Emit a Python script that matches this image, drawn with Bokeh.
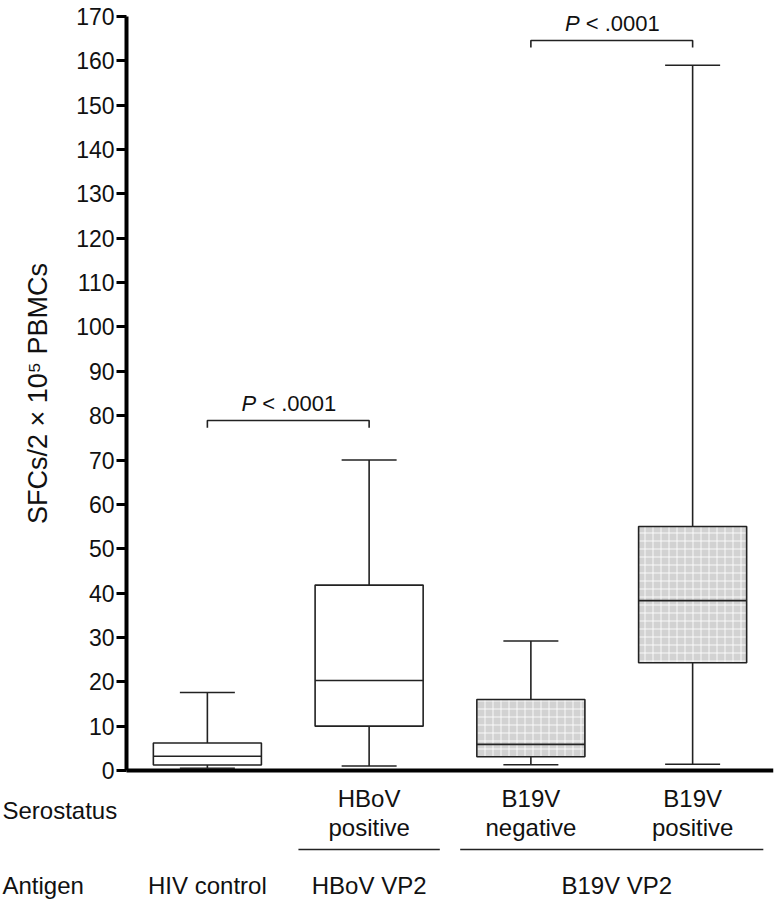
import numpy as np
from bokeh.plotting import figure
from bokeh.models import Range1d, FixedTicker, ColumnDataSource
from bokeh.core.properties import value
from bokeh.embed import file_html
from bokeh.resources import INLINE

# ---------------- data ----------------
groups = ["HIV control", "HBoV positive", "B19V negative", "B19V positive"]
sero_line1 = ["", "HBoV", "B19V", "B19V"]
sero_line2 = ["", "positive", "negative", "positive"]
whisker_low = [0.5, 1.0, 1.3, 1.4]
q1 = [1.25, 10.0, 3.1, 24.3]
median = [3.2, 20.3, 5.9, 38.3]
q3 = [6.2, 41.8, 16.0, 55.0]
whisker_high = [17.6, 70.0, 29.2, 159.0]
shaded = [False, False, True, True]

antigen_labels = ["HIV control", "HBoV VP2", "B19V VP2"]
antigen_members = [[0], [1], [2, 3]]
underlined_antigens = [1, 2]

row_headers = ["Serostatus", "Antigen"]
y_label = "SFCs/2 × 10⁵ PBMCs"

compare_pairs = [(0, 1), (2, 3)]
compare_text = ["< .0001", "< .0001"]
bracket_heights = [78.9, 164.6]

y_ticks = list(range(0, 171, 10))

FONT = "Liberation Sans"
INK = "#111111"
LC = "#222222"

pos = np.arange(len(groups)) + 0.5
box_w = 0.668
cap_half = 0.17

p = figure(width=776, height=900,
           x_range=Range1d(-0.779, 4.0), y_range=Range1d(-29.31, 173.61),
           x_axis_location=None,
           output_backend="svg", toolbar_location=None,
           min_border_left=0, min_border_right=3,
           min_border_top=0, min_border_bottom=0)
p.outline_line_color = None
p.grid.visible = False
p.background_fill_color = "white"

ax = p.yaxis[0]
ax.fixed_location = 0
ax.bounds = (0, 170)
ax.ticker = FixedTicker(ticks=y_ticks)
ax.axis_line_width = 4
ax.axis_line_color = "black"
ax.major_tick_line_width = 3
ax.major_tick_line_color = "black"
ax.major_tick_out = 10
ax.major_tick_in = 0
ax.minor_tick_line_color = None
ax.major_label_text_font = FONT
ax.major_label_text_font_size = "23px"
ax.major_label_text_color = INK
ax.major_label_standoff = 2

# y-axis title (centred on the 0-170 span of the axis)
p.text(x=[-0.55], y=[85.0], text=[y_label], angle=np.pi / 2,
       text_align="center", text_baseline="middle",
       text_font=value(FONT), text_font_size="27px", text_color=INK)

# x axis line
p.segment(x0=[0], y0=[0], x1=[4], y1=[0], line_width=4, line_color="black")

src = ColumnDataSource(dict(
    x=pos, low=whisker_low, q1=q1, med=median, q3=q3, high=whisker_high,
    fill=["#d2d2d2" if s else "white" for s in shaded],
    hatch=["+" if s else " " for s in shaded],
    xl=pos - box_w / 2, xr=pos + box_w / 2,
    cl=pos - cap_half, cr=pos + cap_half,
))

# whiskers
p.segment(x0="x", y0="low", x1="x", y1="q1", source=src, line_width=1.6, line_color=LC)
p.segment(x0="x", y0="q3", x1="x", y1="high", source=src, line_width=1.6, line_color=LC)
p.segment(x0="cl", y0="low", x1="cr", y1="low", source=src, line_width=1.6, line_color=LC)
p.segment(x0="cl", y0="high", x1="cr", y1="high", source=src, line_width=1.6, line_color=LC)
# boxes
p.vbar(x="x", width=box_w, bottom="q1", top="q3", source=src,
       fill_color="fill", line_color=LC, line_width=1.6,
       hatch_pattern="hatch", hatch_color="white", hatch_scale=8,
       hatch_weight=1.0, hatch_alpha=0.85)
p.segment(x0="xl", y0="med", x1="xr", y1="med", source=src, line_width=1.6, line_color=LC)

# serostatus labels
p.text(x=pos, y=[-6.3] * 4, text=sero_line1, text_align="center", text_baseline="middle",
       text_font=value(FONT), text_font_size="24px", text_color=INK)
p.text(x=pos, y=[-12.85] * 4, text=sero_line2, text_align="center", text_baseline="middle",
       text_font=value(FONT), text_font_size="24px", text_color=INK)

# antigen labels + underlines
ant_x = [float(np.mean(pos[m])) for m in antigen_members]
p.text(x=ant_x, y=[-25.9] * 3, text=antigen_labels, text_align="center", text_baseline="middle",
       x_offset=[0, 0, 5],
       text_font=value(FONT), text_font_size="24px", text_color=INK)
ux0 = [float(pos[antigen_members[i]].min()) - 0.437 for i in underlined_antigens]
ux1 = [float(pos[antigen_members[i]].max()) + 0.437 for i in underlined_antigens]
p.segment(x0=ux0, y0=[-17.8] * 2, x1=ux1, y1=[-17.8] * 2, line_width=1.6, line_color=LC)

# row headers
p.text(x=[-0.767] * 2, y=[-9.0, -25.9], text=row_headers, text_align="left",
       text_baseline="middle", text_font=value(FONT), text_font_size="24px", text_color=INK)

# significance brackets
for (a, b), t, h in zip(compare_pairs, compare_text, bracket_heights):
    xa, xb = pos[a], pos[b]
    p.line(x=[xa, xa, xb, xb], y=[h - 1.6, h, h, h - 1.6], line_width=1.6, line_color=LC)
    mid = (xa + xb) / 2
    p.text(x=[mid], y=[h], text=["P"], text_align="right", text_baseline="middle",
           x_offset=-32, y_offset=-17, text_font=value(FONT), text_font_size="22px",
           text_font_style="italic", text_color=INK)
    p.text(x=[mid], y=[h], text=[t], text_align="left", text_baseline="middle",
           x_offset=-26, y_offset=-17, text_font=value(FONT), text_font_size="22px",
           text_color=INK)

open("out.html", "w").write(file_html(p, INLINE))
